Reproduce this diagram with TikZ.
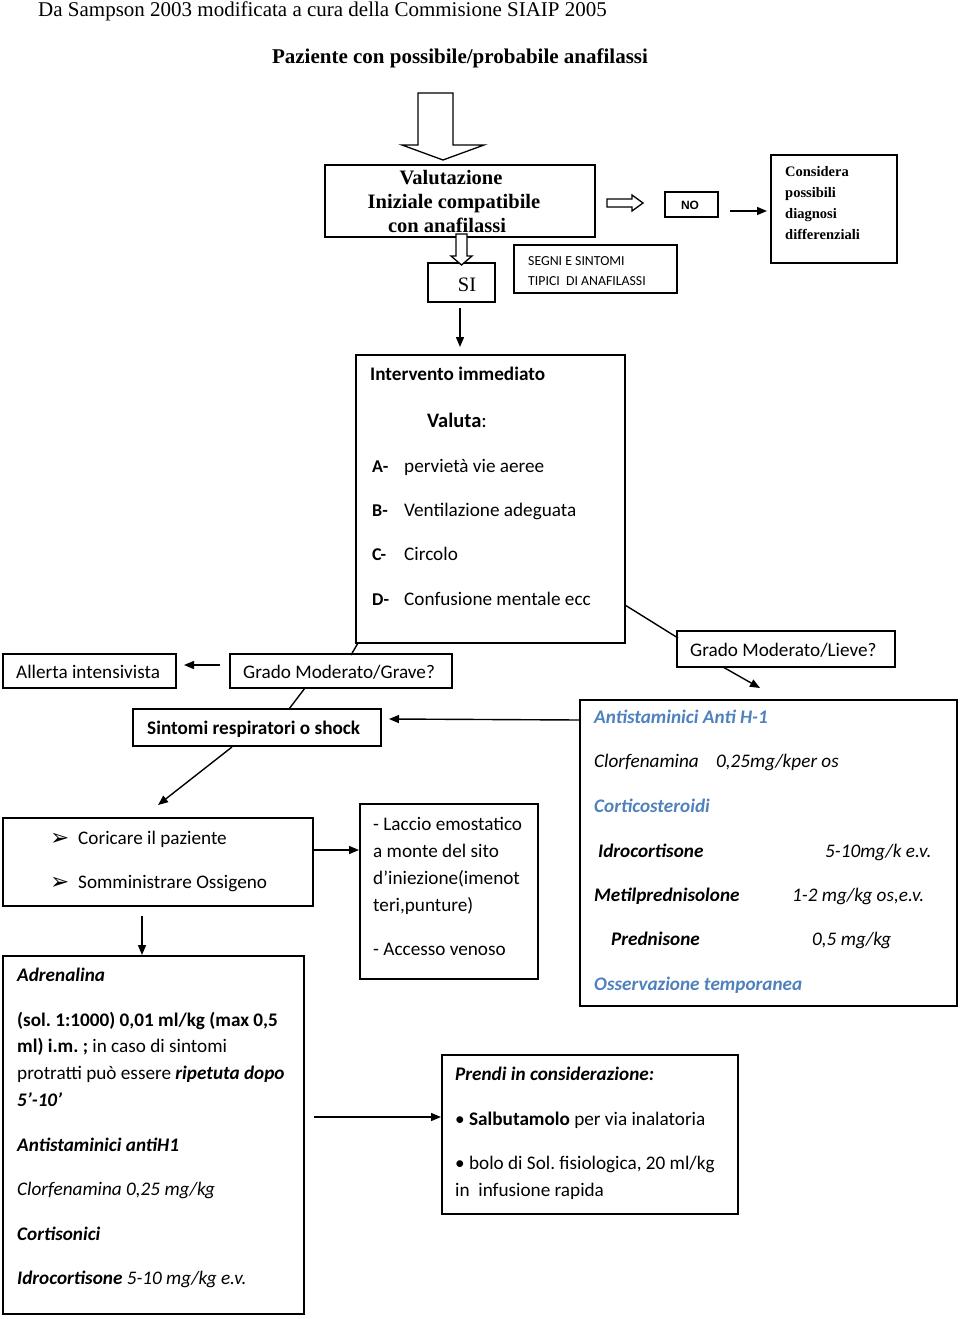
\documentclass[tikz,border=0pt]{standalone}
\usepackage{fontspec}
\setmainfont{Carlito}
\newfontfamily\tms{Liberation Serif}
\newfontfamily\arl{Liberation Sans}
\newfontfamily\dvs{DejaVu Sans}
\usetikzlibrary{arrows.meta}
\definecolor{blu}{HTML}{4F81BD}
\frenchspacing
\def\bx#1#2#3#4#5{\node[box, minimum width={#4-#2}, minimum height={#5-#3}] (#1) at ({(#2+#4)/2},{(#3+#5)/2}) {};}
\begin{document}
\begin{tikzpicture}[x=1pt,y=-1pt,
 box/.style={draw, line width=1.5pt, inner sep=0pt, outer sep=0pt},
 txt/.style={anchor=base west, inner sep=0pt, font=\fontsize{19.2}{21}\selectfont},
 ctr/.style={anchor=base, inner sep=0pt},
 arr/.style={line width=1.4pt, -{Triangle[length=10pt,width=8pt]}},
 ln/.style={line width=1.4pt},
 hollow/.style={draw, line width=1.3pt, fill=white}]
\useasboundingbox (0,0) rectangle (960,1319);

% titles
\node[anchor=base west, inner sep=0pt, font=\tms\fontsize{21}{23}\selectfont] (t1) at (38,17) {Da Sampson 2003 modificata a cura della Commisione SIAIP 2005};
\node[ctr, font=\tms\bfseries\fontsize{21}{23}\selectfont] (t2) at (460,64) {Paziente con possibile/probabile anafilassi};

% big hollow arrow
\draw[hollow] (418,93) -- (453,93) -- (453,145) -- (484,145) -- (443,160) -- (402,145) -- (418,145) -- cycle;

% boxes
\bx{valut}{325}{165}{595}{237}
\bx{no}{665}{192}{718}{217}
\bx{cons}{771}{155}{897}{263}
\bx{si}{428}{263}{495}{302}
\bx{segni}{514}{245}{677}{293}
\bx{interv}{356}{355}{625}{643}
\bx{lieve}{677}{631}{895}{667}
\bx{grave}{230}{654}{452}{688}
\bx{allerta}{3}{654}{176}{688}
\bx{sint}{133}{709}{381}{746}
\bx{anti}{580}{700}{957}{1006}
\bx{cori}{3}{818}{313}{906}
\bx{laccio}{360}{804}{538}{979}
\bx{adren}{3}{956}{304}{1314}
\bx{prendi}{442}{1055}{738}{1214}

% Valutazione text
\begin{scope}[every node/.style={ctr, font=\tms\bfseries\fontsize{20.5}{22}\selectfont}]
\node (v1) at (451,184) {Valutazione};
\node (v2) at (454,208) {Iniziale compatibile};
\node (v3) at (447,232) {con anafilassi};
\end{scope}

% hollow small arrows
\draw[hollow] (607,199) -- (632,199) -- (632,195) -- (643,203) -- (632,211) -- (632,207) -- (607,207) -- cycle;
\draw[hollow] (456,234) -- (467,234) -- (467,256) -- (472,256) -- (461.5,265) -- (451,256) -- (456,256) -- cycle;

\node[ctr, font=\arl\bfseries\fontsize{12}{14}\selectfont] (notext) at (690,209.5) {NO};
\begin{scope}[every node/.style={anchor=base west, inner sep=0pt, font=\tms\bfseries\fontsize{14.5}{16}\selectfont}]
\node (c1) at (785,176) {Considera};
\node (c2) at (785,197) {possibili};
\node (c3) at (785,218) {diagnosi};
\node (c4) at (785,239) {differenziali};
\end{scope}
\node[ctr, font=\tms\fontsize{20.5}{22}\selectfont] (sitext) at (467,291) {SI};
\begin{scope}[every node/.style={anchor=base west, inner sep=0pt, font=\fontsize{13.8}{15}\selectfont}]
\node (s1) at (528,265) {SEGNI E SINTOMI};
\node (s2) at (528,285) {TIPICI\ \ DI ANAFILASSI};
\end{scope}

% Intervento text
\node[txt, font=\bfseries\fontsize{19.2}{21}\selectfont] (i0) at (370,380) {Intervento immediato};
\node[txt, font=\fontsize{20.5}{22}\selectfont] (i1) at (427,427) {\textbf{Valuta}:};
\node[txt, font=\bfseries\fontsize{18}{20}\selectfont] (ia) at (372,472) {A-};
\node[txt] (ia2) at (404,472) {pervietà vie aeree};
\node[txt, font=\bfseries\fontsize{18}{20}\selectfont] (ib) at (372,516) {B-};
\node[txt] (ib2) at (404,516) {Ventilazione adeguata};
\node[txt, font=\bfseries\fontsize{18}{20}\selectfont] (ic) at (372,560) {C-};
\node[txt] (ic2) at (404,560) {Circolo};
\node[txt, font=\bfseries\fontsize{18}{20}\selectfont] (id) at (372,605) {D-};
\node[txt] (id2) at (404,605) {Confusione mentale ecc};

% grado boxes text
\node[txt] (al) at (16,678) {Allerta intensivista};
\node[txt] (gr) at (243,678) {Grado Moderato/Grave?};
\node[txt] (lv) at (690,656) {Grado Moderato/Lieve?};
\node[txt, font=\bfseries\fontsize{19.2}{21}\selectfont] (sr) at (147,734) {Sintomi respiratori o shock};

% right box text
\begin{scope}[every node/.style={txt, font=\itshape\fontsize{19.2}{21}\selectfont}]
\node[text=blu, font=\bfseries\itshape\fontsize{19.2}{21}\selectfont] (r1) at (594,723) {Antistaminici Anti H-1};
\node (r2) at (594,767) {Clorfenamina};
\node (r2b) at (716,767) {0,25mg/kper os};
\node[text=blu, font=\bfseries\itshape\fontsize{19.2}{21}\selectfont] (r3) at (594,812) {Corticosteroidi};
\node[font=\bfseries\itshape\fontsize{19.2}{21}\selectfont] (r4) at (598,857) {Idrocortisone};
\node (r4b) at (825,857) {5-10mg/k e.v.};
\node[font=\bfseries\itshape\fontsize{19.2}{21}\selectfont] (r5) at (594,901) {Metilprednisolone};
\node (r5b) at (792,901) {1-2 mg/kg os,e.v.};
\node[font=\bfseries\itshape\fontsize{19.2}{21}\selectfont] (r6) at (611,945) {Prednisone};
\node (r6b) at (812,945) {0,5 mg/kg};
\node[text=blu, font=\bfseries\itshape\fontsize{19.2}{21}\selectfont] (r7) at (594,990) {Osservazione temporanea};
\end{scope}

% Coricare
\node[txt, font=\dvs\fontsize{23}{24}\selectfont] (b1) at (50,845) {➢};
\node[txt] (k1) at (78,844) {Coricare il paziente};
\node[txt, font=\dvs\fontsize{23}{24}\selectfont] (b2) at (50,889) {➢};
\node[txt] (k2) at (78,888) {Somministrare Ossigeno};

% Laccio
\node[txt] (l1) at (373,830) {- Laccio emostatico};
\node[txt] (l2) at (373,857) {a monte del sito};
\node[txt] (l3) at (373,884) {d’iniezione(imenot};
\node[txt] (l4) at (373,911) {teri,punture)};
\node[txt] (l5) at (373,955) {- Accesso venoso};

% Adrenalina
\node[txt] (a1) at (17,981) {\textbf{\textit{Adrenalina}}};
\node[txt] (a2) at (17,1026) {\textbf{(sol. 1:1000) 0,01 ml/kg (max 0,5}};
\node[txt] (a3) at (17,1052) {\textbf{ml) i.m. ;} in caso di sintomi};
\node[txt] (a4) at (17,1079) {protratti può essere \textbf{\textit{ripetuta dopo}}};
\node[txt] (a5) at (17,1106) {\textbf{\textit{5’-10’}}};
\node[txt] (a6) at (17,1151) {\textbf{\textit{Antistaminici antiH1}}};
\node[txt] (a7) at (17,1195) {\textit{Clorfenamina 0,25 mg/kg}};
\node[txt] (a8) at (17,1240) {\textbf{\textit{Cortisonici}}};
\node[txt] (a9) at (17,1284) {\textbf{\textit{Idrocortisone}} \textit{5-10 mg/kg e.v.}};

% Prendi
\node[txt] (p1) at (455,1080) {\textbf{\textit{Prendi in considerazione:}}};
\node[txt] (p2) at (455,1125) {• \textbf{Salbutamolo} per via inalatoria};
\node[txt] (p3) at (455,1169) {• bolo di Sol. fisiologica, 20 ml/kg};
\node[txt] (p4) at (455,1196) {in\ \ infusione rapida};

% connector coordinates
\coordinate (e1) at (730,211); \coordinate (f1) at (767,211);
\coordinate (e2) at (460,308); \coordinate (f2) at (460,347);
\coordinate (e3) at (220,665); \coordinate (f3) at (184,665);
\coordinate (f4) at (351,655);
\coordinate (e5) at (625,605); \coordinate (f5) at (678,638);
\coordinate (e6) at (723,667); \coordinate (f6) at (760,688);
\coordinate (e7) at (305,688); \coordinate (f7) at (289,709);
\coordinate (e8) at (580,720); \coordinate (f8) at (389,719);
\coordinate (e9) at (232,747); \coordinate (f9) at (158,805);
\coordinate (e10) at (313,850); \coordinate (f10) at (359,850);
\coordinate (e11) at (142,916); \coordinate (f11) at (142,955);
\coordinate (e12) at (314,1117); \coordinate (f12) at (441,1117);

\draw[arr] (e1) -- (f1);
\draw[arr] (e2) -- (f2);
\draw[arr] (e3) -- (f3);
\draw[ln] (interv.south west) ++(2,0) -- (f4);
\draw[ln] (e5) -- (f5);
\draw[arr] (e6) -- (f6);
\draw[ln] (e7) -- (f7);
\draw[arr] (e8) -- (f8);
\draw[arr] (e9) -- (f9);
\draw[arr] (e10) -- (f10);
\draw[arr] (e11) -- (f11);
\draw[arr] (e12) -- (f12);
\end{tikzpicture}
\end{document}
